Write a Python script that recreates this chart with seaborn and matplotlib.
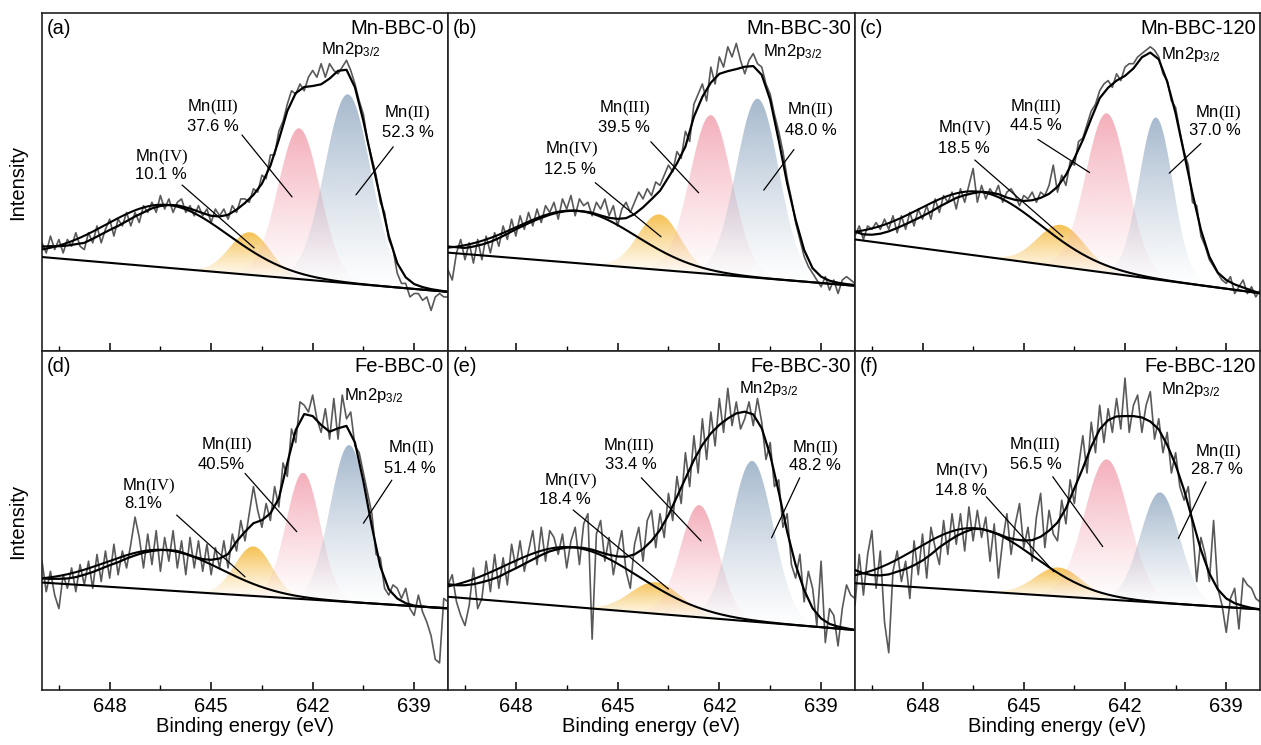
import numpy as np
import matplotlib
matplotlib.use("Agg")
import matplotlib.pyplot as plt
import matplotlib.colors as mcolors
import seaborn as sns

sns.set_theme(style="ticks")
plt.rcParams["font.family"] = ["Liberation Sans", "DejaVu Sans"]
plt.rcParams["mathtext.fontset"] = "custom"
plt.rcParams["mathtext.rm"] = "Liberation Serif"
plt.rcParams["mathtext.it"] = "Liberation Serif:italic"
plt.rcParams["mathtext.bf"] = "Liberation Serif:bold"
plt.rcParams["mathtext.sf"] = "Liberation Sans"
plt.rcParams["text.color"] = "black"
plt.rcParams["axes.labelcolor"] = "black"
plt.rcParams["xtick.color"] = "black"
plt.rcParams["xtick.labelcolor"] = "black"

# ---------------- data ----------------
panel_keys = ["a", "b", "c", "d", "e", "f"]
sample_names = ["Mn-BBC-0", "Mn-BBC-30", "Mn-BBC-120", "Fe-BBC-0", "Fe-BBC-30", "Fe-BBC-120"]
pct_mn4 = ["10.1 %", "12.5 %", "18.5 %", "8.1%", "18.4 %", "14.8 %"]
pct_mn3 = ["37.6 %", "39.5 %", "44.5 %", "40.5%", "33.4 %", "56.5 %"]
pct_mn2 = ["52.3 %", "48.0 %", "37.0 %", "51.4 %", "48.2 %", "28.7 %"]
x_ticks = [648, 645, 642, 639]
x_minor = [649.5, 646.5, 643.5, 640.5]

# raw spectra: 650.0 -> 638.0 eV, step 0.125 eV
raw_a = [32, 29, 34, 30, 33, 29, 33, 31, 35, 31, 30, 35, 32, 37, 32, 36, 39, 34, 39, 37,
         41, 37, 41, 38, 43, 41, 44, 41, 46, 42, 45, 41, 44, 45, 41, 43, 40, 43, 40, 42,
         38, 42, 40, 42, 39, 43, 41, 45, 45, 44, 48, 47, 52, 51, 58, 58, 65, 68, 73, 77,
         76, 79, 77, 81, 83, 81, 85, 81, 85, 83, 82, 84, 86, 83, 79, 74, 70, 62, 57, 52,
         44, 41, 33, 30, 23, 20, 20, 16, 17, 17, 15, 16, 12, 16, 17, 16, 16]
raw_b = [24, 21, 29, 33, 27, 32, 26, 33, 27, 34, 29, 35, 31, 37, 33, 39, 34, 40, 36, 41,
         37, 42, 38, 43, 41, 44, 39, 45, 42, 46, 40, 45, 43, 44, 40, 44, 42, 45, 40, 43,
         37, 42, 44, 41, 44, 47, 45, 48, 46, 50, 49, 52, 55, 53, 59, 57, 65, 62, 73, 76,
         79, 74, 84, 79, 87, 84, 90, 87, 91, 86, 82, 86, 88, 85, 84, 79, 76, 70, 65, 59,
         51, 45, 38, 33, 28, 25, 23, 21, 19, 22, 18, 21, 17, 21, 22, 21, 20]
raw_c = [34, 37, 33, 37, 36, 38, 36, 39, 36, 40, 35, 40, 36, 41, 37, 42, 39, 43, 39, 45,
         41, 46, 44, 47, 42, 48, 44, 49, 54, 44, 49, 45, 48, 46, 49, 44, 47, 48, 46, 43,
         46, 45, 47, 44, 47, 46, 49, 55, 47, 52, 49, 56, 55, 62, 63, 67, 71, 73, 77, 79,
         80, 78, 82, 80, 84, 85, 85, 87, 88, 89, 90, 89, 87, 82, 80, 74, 72, 65, 59, 55,
         44, 43, 34, 31, 27, 25, 23, 21, 20, 22, 17, 19, 21, 17, 19, 16, 18]
raw_d = [38, 29, 35, 28, 24, 34, 30, 36, 29, 37, 31, 38, 30, 40, 32, 41, 33, 43, 34, 41,
         36, 43, 51, 45, 36, 46, 37, 47, 35, 45, 38, 47, 36, 44, 34, 45, 36, 44, 35, 43,
         34, 42, 36, 44, 36, 46, 41, 50, 44, 52, 60, 53, 48, 55, 50, 60, 54, 67, 63, 77,
         73, 85, 84, 82, 87, 80, 76, 83, 74, 86, 74, 87, 80, 82, 72, 70, 64, 58, 52, 40,
         39, 30, 28, 31, 30, 27, 30, 24, 22, 28, 23, 20, 16, 9, 8, 27, 26]
raw_e = [31, 34, 26, 22, 19, 25, 36, 24, 27, 38, 29, 40, 30, 39, 31, 43, 36, 44, 35, 41,
         47, 37, 48, 38, 47, 45, 40, 46, 36, 44, 48, 37, 49, 52, 15, 46, 50, 38, 45, 34,
         41, 47, 35, 30, 43, 48, 38, 50, 53, 42, 52, 45, 58, 50, 63, 55, 70, 60, 75, 64,
         80, 68, 82, 72, 86, 76, 89, 78, 85, 77, 80, 85, 78, 86, 79, 68, 73, 60, 62, 48,
         52, 37, 33, 40, 26, 35, 30, 19, 38, 14, 24, 22, 13, 24, 31, 28, 27]
raw_f = [25, 40, 28, 40, 47, 30, 41, 20, 11, 35, 41, 32, 38, 27, 44, 34, 46, 33, 48, 42,
         37, 50, 40, 52, 43, 52, 41, 54, 44, 53, 45, 51, 38, 49, 33, 44, 52, 40, 49, 55,
         42, 48, 38, 51, 58, 42, 53, 46, 44, 56, 49, 62, 55, 66, 75, 64, 79, 70, 84, 73,
         83, 76, 86, 77, 92, 76, 84, 87, 76, 84, 88, 74, 80, 70, 76, 64, 70, 60, 56, 60,
         48, 32, 45, 40, 32, 50, 30, 25, 17, 27, 30, 18, 33, 31, 30, 27, 26]

# fitted envelopes: 650.0 -> 638.0 eV, step 0.25 eV
fit_a = [30.9, 31.0, 31.0, 31.2, 31.6, 32.0, 33.2, 34.5, 35.8, 37.0, 38.4, 39.8, 41.0, 42.2,
         42.9, 43.2, 43.1, 42.5, 41.7, 40.8, 40.0, 39.8, 40.3, 41.8, 43.8, 46.2, 49.5, 54.8,
         62.5, 71.0, 76.3, 78.1, 78.4, 78.9, 80.6, 82.9, 83.2, 78.0, 68.0, 56.3, 45.3, 34.0,
         26.0, 21.8, 19.8, 18.9, 18.3, 17.9, 17.5]
fit_b = [30.9, 30.7, 30.5, 30.9, 31.5, 32.3, 33.4, 34.7, 36.0, 37.2, 38.4, 39.4, 40.3, 41.0,
         41.4, 41.5, 41.3, 40.9, 40.1, 39.4, 39.1, 39.3, 40.5, 42.5, 44.9, 47.4, 51.4, 55.5,
         60.5, 69.3, 75.2, 79.4, 82.0, 82.8, 83.4, 84.1, 84.3, 81.7, 74.3, 62.4, 49.6, 38.8,
         29.9, 24.5, 22.0, 20.8, 20.2, 19.8, 19.5]
fit_c = [35.3, 34.5, 34.4, 34.7, 35.4, 36.4, 37.5, 38.7, 39.9, 41.2, 42.7, 44.0, 45.3, 46.1,
         46.7, 47.1, 46.9, 46.4, 45.4, 44.7, 44.4, 44.6, 45.3, 46.5, 48.6, 52.1, 57.0, 62.4,
         68.8, 74.8, 77.9, 80.0, 81.4, 83.6, 86.9, 88.3, 86.3, 79.7, 70.3, 58.5, 46.6, 35.8,
         27.9, 23.2, 21.0, 19.7, 18.8, 17.9, 17.1]
fit_d = [32.9, 32.8, 32.8, 32.9, 33.3, 34.0, 34.8, 35.8, 36.8, 37.7, 38.8, 39.7, 40.5, 41.0,
         41.3, 41.3, 41.0, 40.2, 39.3, 38.6, 38.4, 38.8, 40.1, 43.8, 46.7, 49.2, 50.1, 52.1,
         56.5, 66.9, 76.7, 81.4, 80.8, 78.2, 76.2, 77.2, 77.9, 73.0, 61.5, 48.2, 36.4, 29.7,
         27.0, 25.6, 24.9, 24.6, 24.4, 24.2, 24.1]
fit_e = [31.2, 30.9, 30.9, 31.2, 31.8, 32.5, 33.4, 34.7, 35.9, 37.2, 38.5, 39.8, 40.9, 41.6,
         42.0, 42.1, 41.9, 41.4, 40.6, 39.9, 39.4, 39.3, 40.0, 41.6, 44.0, 47.2, 51.6, 57.0,
         62.4, 67.8, 72.3, 75.7, 78.2, 80.1, 81.6, 82.1, 81.3, 77.2, 69.3, 58.5, 46.7, 36.9,
         29.5, 24.1, 21.1, 19.5, 18.7, 18.2, 17.7]
fit_f = [35.4, 34.4, 33.9, 33.8, 34.1, 34.9, 35.7, 36.8, 38.2, 40.0, 42.1, 43.8, 45.4, 46.6,
         47.5, 47.5, 46.8, 46.0, 45.0, 44.4, 44.1, 44.2, 45.2, 47.0, 49.4, 53.6, 59.5, 65.4,
         71.8, 76.9, 79.6, 80.7, 80.8, 80.8, 80.4, 79.2, 76.9, 72.3, 66.4, 59.0, 50.1, 41.3,
         34.4, 29.7, 27.0, 25.6, 24.8, 24.2, 23.8]

# linear background (value at 650 eV, value at 638 eV)
bg_a = [27.8, 17.5]
bg_b = [29.1, 19.3]
bg_c = [33.0, 17.1]
bg_d = [31.7, 24.1]
bg_e = [27.5, 17.7]
bg_f = [31.5, 23.8]

# fitted components: (centre eV, height above background, sigma eV)
sat_a, mn4_a, mn3_a, mn2_a = (646.30, 18.6, 1.80), (643.85, 12.6, 0.60), (642.40, 44.6, 0.62), (640.96, 55.9, 0.68)
sat_b, mn4_b, mn3_b, mn2_b = (646.20, 15.5, 1.75), (643.77, 16.4, 0.62), (642.25, 47.0, 0.62), (640.87, 53.0, 0.63)
sat_c, mn4_c, mn3_c, mn2_c = (646.30, 19.0, 1.80), (643.89, 12.4, 0.70), (642.54, 47.2, 0.62), (641.08, 47.9, 0.50)
sat_d, mn4_d, mn3_d, mn2_d = (646.40, 11.9, 1.70), (643.75, 14.6, 0.55), (642.28, 37.3, 0.50), (640.92, 46.3, 0.56)
sat_e, mn4_e, mn3_e, mn2_e = (646.35, 17.6, 1.95), (643.87, 9.3, 0.75), (642.59, 33.1, 0.56), (641.03, 47.4, 0.62)
sat_f, mn4_f, mn3_f, mn2_f = (646.45, 18.5, 1.75), (643.97, 8.5, 0.70), (642.54, 41.3, 0.66), (640.96, 32.6, 0.58)

raws = dict(a=raw_a, b=raw_b, c=raw_c, d=raw_d, e=raw_e, f=raw_f)
fits = dict(a=fit_a, b=fit_b, c=fit_c, d=fit_d, e=fit_e, f=fit_f)
bgs = dict(a=bg_a, b=bg_b, c=bg_c, d=bg_d, e=bg_e, f=bg_f)
sats = dict(a=sat_a, b=sat_b, c=sat_c, d=sat_d, e=sat_e, f=sat_f)
mn4s = dict(a=mn4_a, b=mn4_b, c=mn4_c, d=mn4_d, e=mn4_e, f=mn4_f)
mn3s = dict(a=mn3_a, b=mn3_b, c=mn3_c, d=mn3_d, e=mn3_e, f=mn3_f)
mn2s = dict(a=mn2_a, b=mn2_b, c=mn2_c, d=mn2_d, e=mn2_e, f=mn2_f)

E_HI, E_LO = 650.0, 638.0
energy_raw = np.linspace(E_HI, E_LO, len(raw_a))
energy_fit = np.linspace(E_HI, E_LO, len(fit_a))

# ---------------- layout (annotation placement) ----------------
ann = {
    "a": dict(iv=(646.48, 57.4, 646.48, 52.1), iii=(644.95, 72.2, 644.95, 66.3), ii=(639.21, 70.4, 639.18, 64.5),
              liv=((645.86, 49.1), (643.73, 30.5)), liii=((644.09, 63.9), (642.61, 45.6)),
              lii=((639.62, 60.4), (640.72, 46.2)), p=(640.88, 89.1)),
    "b": dict(iv=(646.37, 59.5, 646.40, 53.8), iii=(644.80, 71.8, 644.81, 66.1), ii=(639.31, 71.3, 639.31, 65.2),
              liv=((645.66, 49.8), (643.72, 33.8)), liii=((644.02, 61.9), (642.61, 46.8)),
              lii=((639.80, 59.6), (640.69, 47.6)), p=(639.85, 88.6)),
    "c": dict(iv=(646.75, 65.9, 646.77, 59.9), iii=(644.63, 72.1, 644.63, 66.6), ii=(639.24, 70.3, 639.34, 65.1),
              liv=((646.45, 56.5), (643.84, 33.8)), liii=((644.58, 62.6), (643.05, 52.8)),
              lii=((639.75, 61.4), (640.69, 52.6)), p=(640.05, 87.6)),
    "d": dict(iv=(646.86, 60.0, 647.00, 55.1), iii=(644.54, 72.3, 644.69, 66.4), ii=(639.10, 71.3, 639.14, 65.4),
              liv=((646.02, 51.6), (644.00, 33.4)), liii=((644.00, 63.9), (642.47, 46.7)),
              lii=((639.66, 61.9), (640.50, 49.2)), p=(640.21, 87.0)),
    "e": dict(iv=(646.40, 61.4, 646.55, 56.3), iii=(644.68, 71.8, 644.60, 66.4), ii=(639.16, 71.3, 639.18, 66.2),
              liv=((646.31, 53.1), (643.50, 29.8)), liii=((644.30, 62.6), (642.54, 44.0)),
              lii=((639.63, 62.6), (640.46, 44.9)), p=(640.54, 89.0)),
    "f": dict(iv=(646.85, 64.4, 646.87, 58.8), iii=(644.68, 72.3, 644.63, 66.4), ii=(639.23, 70.0, 639.29, 64.9),
              liv=((646.11, 57.0), (644.11, 34.9)), liii=((644.14, 62.9), (642.66, 42.3)),
              lii=((639.60, 61.4), (640.42, 44.7)), p=(640.05, 88.5)),
}

COL_ORANGE = "#F5BA3E"
COL_PINK = "#F3A6B3"
COL_BLUE = "#9CB1C8"


def gradient_fill(ax, x, base, top, color, zorder=1):
    poly = ax.fill_between(x, base, top, facecolor="none", edgecolor="none")
    rgb = mcolors.to_rgb(color)
    n = 256
    img = np.zeros((n, 1, 4))
    img[:, 0, :3] = rgb
    img[:, 0, 3] = np.linspace(0.0, 1.0, n) ** 1.2 * 0.9
    im = ax.imshow(img, extent=[x.min(), x.max(), base.min(), top.max()], origin="lower",
                   aspect="auto", zorder=zorder, interpolation="bilinear")
    im.set_clip_path(poly.get_paths()[0], transform=ax.transData)


W, H = 1261, 745
fig = plt.figure(figsize=(W / 100, H / 100), dpi=100)
col_left = [42, 448, 855]
col_width = [406, 407, 405]
row_top = [13, 351]
row_height = [338, 339]

FS_BIG = 14.5
FS_ANN = 12

xs = np.linspace(E_HI, E_LO, 900)

for i, key in enumerate(panel_keys):
    r, c = divmod(i, 3)
    ax = fig.add_axes([col_left[c] / W, 1 - (row_top[r] + row_height[r]) / H,
                       col_width[c] / W, row_height[r] / H])
    b0, b1 = bgs[key]
    bg = b0 + (b1 - b0) * (E_HI - xs) / (E_HI - E_LO)

    for comp, col in ((mn4s[key], COL_ORANGE), (mn3s[key], COL_PINK), (mn2s[key], COL_BLUE)):
        cen, h, s = comp
        m = np.abs(xs - cen) <= 4.2 * s
        xx = xs[m]
        base = bg[m]
        top = base + h * np.exp(-0.5 * ((xx - cen) / s) ** 2)
        gradient_fill(ax, xx, base, top, col)

    sns.lineplot(x=energy_raw, y=raws[key], ax=ax, color="#595959", lw=1.2,
                 estimator=None, zorder=2)
    ax.plot([E_HI, E_LO], [b0, b1], color="black", lw=1.5, zorder=3)
    sc, sh, ss = sats[key]
    ax.plot(xs, bg + sh * np.exp(-0.5 * ((xs - sc) / ss) ** 2), color="black", lw=1.5, zorder=3)
    sns.lineplot(x=energy_fit, y=fits[key], ax=ax, color="black", lw=1.6,
                 estimator=None, zorder=4)

    a = ann[key]
    for lab, pct, pos in (("Mn$\\mathrm{(IV)}$", pct_mn4[i], a["iv"]),
                          ("Mn$\\mathrm{(III)}$", pct_mn3[i], a["iii"]),
                          ("Mn$\\mathrm{(II)}$", pct_mn2[i], a["ii"])):
        ax.text(pos[0], pos[1], lab, ha="center", va="center", fontsize=FS_ANN, zorder=6)
        ax.text(pos[2], pos[3], pct, ha="center", va="center", fontsize=FS_ANN, zorder=6)
    for ln in (a["liv"], a["liii"], a["lii"]):
        ax.plot([ln[0][0], ln[1][0]], [ln[0][1], ln[1][1]], color="black", lw=0.9, zorder=6)
    ax.text(a["p"][0], a["p"][1], "Mn2p$_{\\mathsf{3/2}}$", ha="center", va="center",
            fontsize=FS_ANN, zorder=6)

    ax.text(0.012, 0.953, f"({key})", transform=ax.transAxes, ha="left", va="center", fontsize=FS_BIG)
    ax.text(0.99, 0.953, sample_names[i], transform=ax.transAxes, ha="right", va="center", fontsize=FS_BIG)

    ax.set_xlim(E_HI, E_LO)
    ax.set_ylim(0, 100)
    ax.set_yticks([])
    ax.set_ylabel("")
    ax.set_xticks(x_ticks)
    ax.set_xticks(x_minor, minor=True)
    ax.tick_params(axis="x", which="major", direction="in", length=6, width=1.1,
                   labelsize=FS_BIG, pad=5, color="black", labelcolor="black")
    ax.tick_params(axis="x", which="minor", direction="in", length=3.5, width=1.0, color="black")
    for sp in ax.spines.values():
        sp.set_visible(True)
        sp.set_linewidth(1.2)
        sp.set_color("#222222")
    if r == 0:
        ax.tick_params(axis="x", labelbottom=False)
        ax.set_xlabel("")
    else:
        ax.set_xlabel("Binding energy (eV)", fontsize=FS_BIG, labelpad=1, color="black")

fig.text(18 / W, 1 - 182 / H, "Intensity", rotation=90, ha="center", va="center", fontsize=FS_BIG)
fig.text(18 / W, 1 - 521 / H, "Intensity", rotation=90, ha="center", va="center", fontsize=FS_BIG)

fig.savefig("out.png", dpi=100)
